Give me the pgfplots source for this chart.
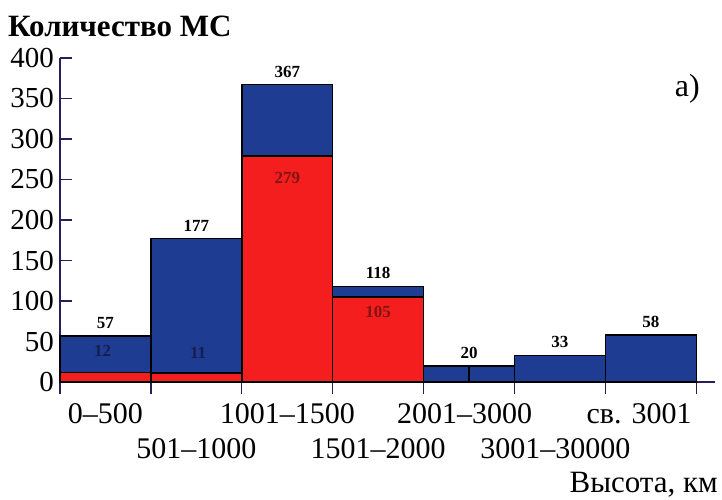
\documentclass[border=0pt]{standalone}
\usepackage{fontspec}
\setmainfont{Liberation Serif}
\usepackage{pgfplots}
\pgfplotsset{compat=1.18}
\definecolor{barblue}{RGB}{30,60,145}
\definecolor{barred}{RGB}{245,30,30}
\definecolor{axisnavy}{RGB}{40,30,90}
\definecolor{innerblue}{RGB}{20,30,80}
\definecolor{innerred}{RGB}{130,20,20}
\begin{document}
\begin{tikzpicture}
\path[use as bounding box] (-60pt,-118pt) rectangle (662pt,382pt);
\begin{axis}[
  at={(0pt,0pt)}, anchor=south west,
  scale only axis, width=654.5pt, height=324pt,
  xmin=0, xmax=7.2, ymin=0, ymax=400,
  axis lines=left, axis line style={-, axisnavy, line width=1.3pt},
  ytick={0,50,...,400},
  xtick={0,1,...,7}, xticklabels={},
  major tick length=12pt,
  tick align=inside,
  tick style={axisnavy, line width=1.3pt},
  xtick style={yshift=-12pt},
  yticklabel style={font=\fontsize{29}{29}\selectfont, inner sep=1pt, xshift=-5pt},
  /pgf/number format/assume math mode=true,
  clip=false,
]
\addplot[ybar interval, fill=barblue, draw=black, line width=1.4pt]
  coordinates {(0,57) (1,177) (2,367) (3,118) (4,20) (5,33) (6,58) (7,58)};
\addplot[ybar interval, fill=barred, draw=black, line width=1.4pt]
  coordinates {(0,12) (1,11) (2,279) (3,105) (4,105)};
\addplot[draw=black, line width=1.4pt] coordinates {(4.5,0) (4.5,20)};
% value labels
\begin{scope}[every node/.style={font=\bfseries\fontsize{17}{17}\selectfont, anchor=south, yshift=4pt}]
\node at (axis cs:0.5,57) {57};
\node at (axis cs:1.5,177) {177};
\node at (axis cs:2.5,367) {367};
\node at (axis cs:3.5,118) {118};
\node at (axis cs:4.5,20) {20};
\node at (axis cs:5.5,33) {33};
\node at (axis cs:6.5,58) {58};
\end{scope}
\begin{scope}[every node/.style={font=\bfseries\fontsize{17}{17}\selectfont, anchor=center}]
\node[text=innerblue] at (axis cs:0.47,38) {12};
\node[text=innerblue] at (axis cs:1.52,36) {11};
\node[text=innerred] at (axis cs:2.5,252) {279};
\node[text=innerred] at (axis cs:3.5,86) {105};
\end{scope}
% x category labels
\begin{scope}[every node/.style={font=\fontsize{30}{30}\selectfont, anchor=base, inner sep=0pt}]
\node at ([yshift=-41pt]axis cs:0.5,0) {0–500};
\node at ([yshift=-76pt]axis cs:1.5,0) {501–1000};
\node at ([yshift=-41pt]axis cs:2.5,0) {1001–1500};
\node at ([yshift=-76pt]axis cs:3.5,0) {1501–2000};
\node at ([yshift=-41pt]axis cs:4.45,0) {2001–3000};
\node at ([yshift=-76pt]axis cs:5.45,0) {3001–30000};
\node at ([yshift=-41pt]axis cs:6.37,0) {св. 3001};
\end{scope}
\end{axis}
\node[anchor=base west, inner sep=0pt, font=\bfseries\fontsize{31}{31}\selectfont] at (-52pt,345pt) {Количество МС};
\node[anchor=base east, inner sep=0pt, font=\fontsize{32}{32}\selectfont] at (640pt,285pt) {а)};
\node[anchor=base east, inner sep=0pt, font=\fontsize{31}{31}\selectfont] at (658pt,-110pt) {Высота, км};
\end{tikzpicture}
\end{document}
